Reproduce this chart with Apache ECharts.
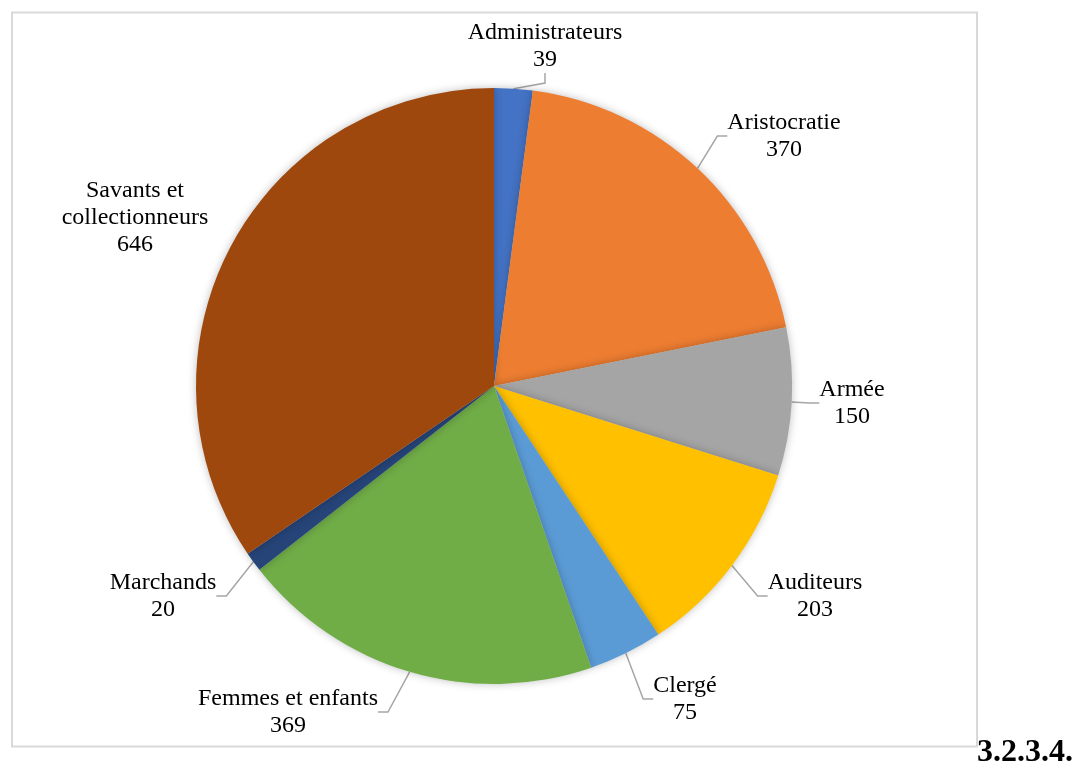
<!DOCTYPE html>
<html>
<head>
<meta charset="utf-8">
<script src="https://cdn.jsdelivr.net/npm/echarts@6/dist/echarts.min.js"></script>
<style>
  html, body { margin: 0; padding: 0; background: #fff; overflow: hidden; }
  #chart { width: 1077px; height: 763px; }
</style>
</head>
<body>
<div id="chart"></div>
<script>
const categories = [
  "Administrateurs",
  "Aristocratie",
  "Armée",
  "Auditeurs",
  "Clergé",
  "Femmes et enfants",
  "Marchands",
  "Savants et\ncollectionneurs"
];
const values = [39, 370, 150, 203, 75, 369, 20, 646];
const colors = ["#4472C4", "#ED7D31", "#A5A5A5", "#FFC000", "#5B9BD5", "#70AD47", "#264478", "#9E480E"];

// where each label block sits (centre), like the Excel layout
const labelPos = [
  [545, 46], [784, 136], [852, 403], [815, 596],
  [685, 699], [288, 712], [163, 596], [135, 218]
];

const chartDom = document.getElementById("chart");
const myChart = echarts.init(chartDom, null, { renderer: "canvas" });

const seriesData = categories.map((name, i) => ({
  name: name,
  value: values[i],
  itemStyle: { color: colors[i] },
  labelLine: { show: i !== 7 }
}));

const option = {
  animation: false,
  title: {
    text: "3.2.3.4.",
    left: 977,
    top: 737,
    padding: 0,
    textStyle: { fontFamily: "Liberation Serif", fontWeight: "bold", fontSize: 32, color: "#000" }
  },
  graphic: [{
    type: "rect",
    shape: { x: 12, y: 12.5, width: 965, height: 734 },
    style: { fill: "none", stroke: "#d9d9d9", lineWidth: 2 },
    silent: true
  }],
  series: [{
    type: "pie",
    center: [494, 386],
    radius: 298,
    startAngle: 90,
    clockwise: true,
    data: seriesData,
    itemStyle: {
      borderWidth: 0,
      shadowBlur: 8,
      shadowColor: "rgba(0,0,0,0.25)"
    },
    label: {
      show: true,
      position: "outside",
      formatter: "{b}\n{c}",
      fontFamily: "Liberation Serif",
      fontSize: 24,
      lineHeight: 27,
      color: "#000",
      align: "center"
    },
    labelLine: {
      show: true,
      length: 12,
      length2: 10,
      lineStyle: { color: "#a6a6a6", width: 1.5 }
    },
    labelLayout: function (params) {
      const p = labelPos[params.dataIndex];
      return {
        x: p[0],
        y: p[1],
        align: "center",
        verticalAlign: "middle"
      };
    }
  }]
};

myChart.setOption(option);
</script>
</body>
</html>
